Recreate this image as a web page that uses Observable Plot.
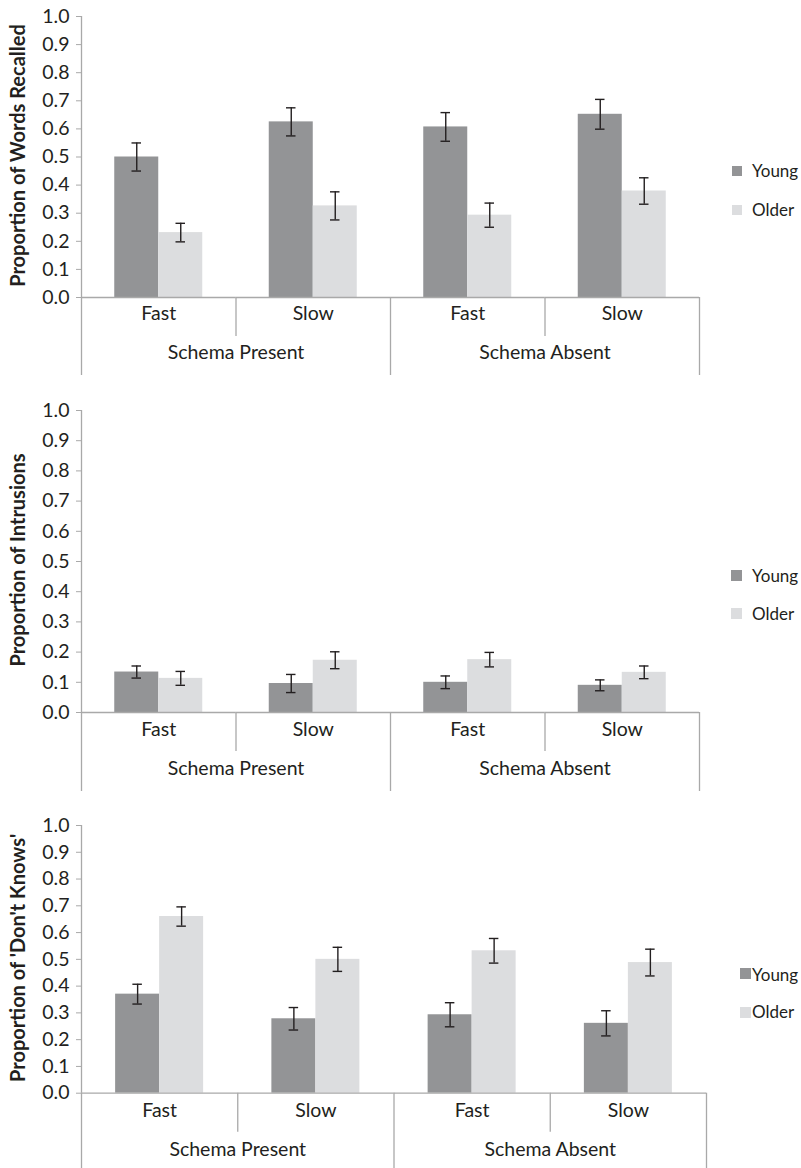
<!DOCTYPE html>
<html><head><meta charset="utf-8">
<script src="https://cdn.jsdelivr.net/npm/d3@7"></script>
<script src="https://cdn.jsdelivr.net/npm/@observablehq/plot@0.6"></script>
<style>
body{margin:0;background:#fff;}
#root{position:relative;width:801px;height:1168px;overflow:hidden;font-family:Lato,sans-serif;color:#231f20;}
.panel{position:absolute;left:0;}
.sw{position:absolute;}
.lt{position:absolute;font-size:17px;line-height:24px;height:24px;white-space:nowrap;color:#231f20;font-family:Lato,sans-serif;}
</style></head><body><div id="root"></div><script>
// ---- data ----
const conds = ["Present·Fast", "Present·Slow", "Absent·Fast", "Absent·Slow"];
const speedLabels = ["Fast", "Slow", "Fast", "Slow"];
const schemaLabels = ["Schema Present", "Schema Absent"];
const groups = ["Young", "Older"];
const yTicks = [0.0, 0.1, 0.2, 0.3, 0.4, 0.5, 0.6, 0.7, 0.8, 0.9, 1.0];

const recallYoung   = [0.500, 0.625, 0.607, 0.652];
const recallYoungSE = [0.050, 0.050, 0.051, 0.053];
const recallOlder   = [0.231, 0.326, 0.293, 0.379];
const recallOlderSE = [0.033, 0.050, 0.043, 0.047];

const intrusionYoung   = [0.134, 0.096, 0.100, 0.090];
const intrusionYoungSE = [0.020, 0.030, 0.021, 0.018];
const intrusionOlder   = [0.113, 0.173, 0.175, 0.133];
const intrusionOlderSE = [0.023, 0.028, 0.024, 0.021];

const dkYoung   = [0.370, 0.278, 0.293, 0.261];
const dkYoungSE = [0.037, 0.042, 0.045, 0.047];
const dkOlder   = [0.660, 0.500, 0.532, 0.488];
const dkOlderSE = [0.036, 0.045, 0.046, 0.050];

const titles = ["Proportion of Words Recalled", "Proportion of Intrusions", "Proportion of 'Don't Knows'"];

// ---- styles ----
const youngColor = "#939496";
const olderColor = "#dcdddf";
const axisColor = "#a9a9a9";
const inkColor = "#231f20";
const fontSize = 19.5;

function rowsFor(young, youngSE, older, olderSE) {
  const rows = [];
  conds.forEach((c, i) => {
    rows.push({cond: c, group: groups[0], value: young[i], se: youngSE[i]});
    rows.push({cond: c, group: groups[1], value: older[i], se: olderSE[i]});
  });
  return rows;
}

function panel(cfg) {
  const W = 801, mL = 81;
  const fw = (W - mL - cfg.marginRight) / conds.length;
  const barW = 44;
  const po = (fw / barW - 2) / 2;
  const rows = rowsFor(...cfg.data);
  const capInset = (barW - 9.5) / 2;
  const lineStyle = {fx: "cond", x: null, stroke: axisColor, strokeWidth: 1.3};
  return Plot.plot({
    width: W, height: cfg.height,
    marginLeft: mL, marginRight: cfg.marginRight, marginTop: cfg.marginTop, marginBottom: cfg.marginBottom,
    style: {fontFamily: "Lato, sans-serif", fontSize: fontSize + "px", color: inkColor, background: "transparent", overflow: "visible"},
    fx: {domain: conds, padding: 0, round: false, axis: null, label: null},
    x: {domain: groups, paddingInner: 0, paddingOuter: po, round: false, axis: null, label: null},
    y: {domain: [0, 1], axis: null},
    color: {domain: groups, range: [youngColor, olderColor]},
    marks: [
      Plot.axisY({ticks: yTicks, tickFormat: d3.format(".1f"), tickSize: 5, tickPadding: 7, stroke: axisColor, fill: inkColor, label: null}),
      Plot.barY(rows, {fx: "cond", x: "group", y: "value", fill: "group"}),
      // baseline
      Plot.ruleY([0], {stroke: axisColor, strokeWidth: 1.3}),
      // y axis line
      Plot.ruleX([{cond: conds[0]}], {...lineStyle, y1: 1, y2: 0, dx: -fw / 2}),
      // outer separators (left edges of Fast categories)
      Plot.ruleX([{cond: conds[0]}, {cond: conds[2]}], {...lineStyle, y1: 0, y2: 0, insetBottom: -cfg.outer, dx: -fw / 2}),
      // right edge
      Plot.ruleX([{cond: conds[3]}], {...lineStyle, y1: 0, y2: 0, insetBottom: -cfg.outer, dx: fw / 2}),
      // inner separators (between Fast and Slow)
      Plot.ruleX([{cond: conds[1]}, {cond: conds[3]}], {...lineStyle, y1: 0, y2: 0, insetBottom: -39, dx: -fw / 2}),
      // error bars
      Plot.ruleX(rows, {fx: "cond", x: "group", y1: d => d.value - d.se, y2: d => d.value + d.se, stroke: inkColor, strokeWidth: 1.4}),
      Plot.tickY(rows, {fx: "cond", x: "group", y: d => d.value + d.se, insetLeft: capInset, insetRight: capInset, stroke: inkColor, strokeWidth: 1.4}),
      Plot.tickY(rows, {fx: "cond", x: "group", y: d => d.value - d.se, insetLeft: capInset, insetRight: capInset, stroke: inkColor, strokeWidth: 1.4}),
      // category labels
      Plot.text(conds.map((c, i) => ({cond: c, label: speedLabels[i]})), {fx: "cond", text: "label", frameAnchor: "bottom", lineAnchor: "middle", dy: cfg.dy1, fill: inkColor}),
      Plot.text([{cond: conds[1], label: schemaLabels[0]}, {cond: conds[3], label: schemaLabels[1]}], {fx: "cond", text: "label", frameAnchor: "bottom-left", textAnchor: "middle", lineAnchor: "middle", dy: cfg.dy2, fill: inkColor}),
      // y title
      Plot.text([{cond: conds[0], label: cfg.title}], {fx: "cond", text: "label", frameAnchor: "left", textAnchor: "middle", lineAnchor: "middle", rotate: -90, dx: -62.5, dy: -1.5, fontSize: 20, fontWeight: "bold", fill: inkColor})
    ]
  });
}

const cfgs = [
  {top: 0, height: 377, marginTop: 16, marginBottom: 80, marginRight: 102, outer: 78, dy1: 16, dy2: 55,
   data: [recallYoung, recallYoungSE, recallOlder, recallOlderSE], title: titles[0],
   legend: {sq: 10, sqx: 732, tx: 752, y: [170.5, 209.5], ty: [171.2, 209.7]}},
  {top: 390, height: 402, marginTop: 20, marginBottom: 80, marginRight: 102, outer: 79, dy1: 17, dy2: 56,
   data: [intrusionYoung, intrusionYoungSE, intrusionOlder, intrusionOlderSE], title: titles[1],
   legend: {sq: 11, sqx: 731, tx: 752, y: [575.8, 613.2], ty: [576, 613.5]}},
  {top: 805, height: 363, marginTop: 20, marginBottom: 75.3, marginRight: 95, outer: 78, dy1: 18, dy2: 57,
   data: [dkYoung, dkYoungSE, dkOlder, dkOlderSE], title: titles[2],
   legend: {sq: 11, sqx: 740, tx: 752, y: [973.8, 1012], ty: [974.7, 1012.2]}}
];

const root = document.getElementById("root");
cfgs.forEach(cfg => {
  const div = document.createElement("div");
  div.className = "panel";
  div.style.top = cfg.top + "px";
  div.appendChild(panel(cfg));
  root.appendChild(div);
  const L = cfg.legend;
  groups.forEach((g, i) => {
    const sw = document.createElement("div");
    sw.className = "sw";
    sw.style.left = L.sqx + "px";
    sw.style.top = (L.y[i] - L.sq / 2) + "px";
    sw.style.width = L.sq + "px";
    sw.style.height = L.sq + "px";
    sw.style.background = i === 0 ? youngColor : olderColor;
    root.appendChild(sw);
    const t = document.createElement("div");
    t.className = "lt";
    t.style.left = L.tx + "px";
    t.style.top = (L.ty[i] - 12) + "px";
    t.textContent = g;
    root.appendChild(t);
  });
});
</script></body></html>
